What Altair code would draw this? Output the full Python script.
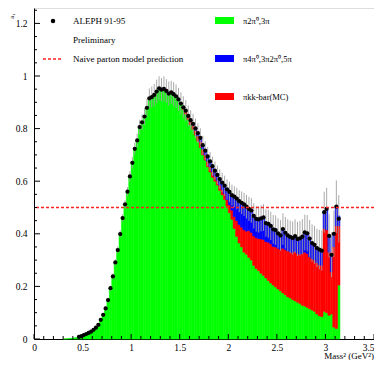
import altair as alt
import pandas as pd

# ---------------- data ----------------
BIN_WIDTH = 0.025
GREEN_START = 0.3      # left edge of first green bin (GeV^2)
DATA_START = 0.45      # left edge of first data bin
STACK_START = 1.5      # left edge of first bin carrying red / blue

# pi 2pi0, 3pi  (green, bottom of stack)
green = [0.0005, 0.001, 0.002, 0.003, 0.004, 0.006,
         0.008, 0.011, 0.015, 0.019, 0.023, 0.028, 0.035, 0.043, 0.054, 0.073,
         0.092, 0.116, 0.148, 0.193, 0.238, 0.291, 0.338, 0.399, 0.460, 0.512,
         0.560, 0.618, 0.670, 0.723, 0.755, 0.806, 0.824, 0.846, 0.879, 0.915,
         0.920, 0.928, 0.941, 0.953, 0.948, 0.951, 0.943, 0.933, 0.938, 0.931,
         0.923, 0.911,
         0.893, 0.872, 0.855, 0.835, 0.815, 0.797, 0.775, 0.752, 0.728, 0.700,
         0.680, 0.655, 0.635, 0.615, 0.600, 0.585, 0.565, 0.548, 0.530, 0.505,
         0.480, 0.455, 0.420, 0.390, 0.365, 0.350, 0.330, 0.322, 0.310, 0.300,
         0.280, 0.268, 0.260, 0.250, 0.242, 0.232, 0.222, 0.213, 0.205, 0.198,
         0.190, 0.183, 0.175, 0.168, 0.160, 0.156, 0.150, 0.145, 0.140, 0.135,
         0.128, 0.125, 0.120, 0.115, 0.110, 0.105, 0.095, 0.088, 0.085, 0.105,
         0.100, 0.090, 0.095, 0.045, 0.040, 0.205]

# pi K Kbar (MC)  (red, middle of stack), from STACK_START
red = [0.002, 0.006, 0.009, 0.010, 0.013, 0.015, 0.018, 0.020, 0.022, 0.022,
       0.020, 0.021, 0.020, 0.021, 0.018, 0.017, 0.020, 0.020, 0.022, 0.025,
       0.030, 0.035, 0.045, 0.060, 0.070, 0.075, 0.085, 0.088, 0.102, 0.105,
       0.112, 0.117, 0.122, 0.130, 0.136, 0.138, 0.146, 0.149, 0.147, 0.152,
       0.155, 0.157, 0.170, 0.172, 0.175, 0.176, 0.178, 0.188, 0.185, 0.187,
       0.197, 0.205, 0.205, 0.197, 0.195, 0.195, 0.195, 0.194, 0.195, 0.315,
       0.315, 0.240, 0.160, 0.305, 0.390, 0.225]

# pi 4pi0, 3pi 2pi0, 5pi  (blue, top of stack), from STACK_START
blue = [0.000, 0.003, 0.004, 0.003, 0.004, 0.006, 0.008, 0.011, 0.015, 0.015,
        0.016, 0.018, 0.020, 0.021, 0.022, 0.022, 0.023, 0.027, 0.031, 0.039,
        0.049, 0.057, 0.076, 0.084, 0.089, 0.093, 0.097, 0.093, 0.083, 0.084,
        0.076, 0.072, 0.073, 0.079, 0.084, 0.071, 0.070, 0.068, 0.065, 0.064,
        0.057, 0.054, 0.073, 0.064, 0.059, 0.056, 0.056, 0.058, 0.055, 0.061,
        0.064, 0.075, 0.077, 0.070, 0.060, 0.058, 0.056, 0.058, 0.056, 0.062,
        0.080, 0.062, 0.065, 0.050, 0.073, 0.038]

# ALEPH 91-95 data points and their errors, from DATA_START
data = [0.008, 0.011, 0.015, 0.019, 0.023, 0.028, 0.035, 0.043, 0.054, 0.073,
        0.092, 0.116, 0.148, 0.193, 0.238, 0.291, 0.338, 0.399, 0.460, 0.512,
        0.560, 0.618, 0.670, 0.723, 0.755, 0.806, 0.824, 0.846, 0.879, 0.915,
        0.920, 0.928, 0.941, 0.953, 0.948, 0.951, 0.943, 0.933, 0.938, 0.931,
        0.923, 0.911,
        0.895, 0.881, 0.868, 0.848, 0.832, 0.818, 0.801, 0.783, 0.765, 0.737,
        0.716, 0.694, 0.675, 0.657, 0.640, 0.624, 0.608, 0.595, 0.583, 0.569,
        0.559, 0.547, 0.541, 0.534, 0.524, 0.518, 0.512, 0.503, 0.495, 0.489,
        0.468, 0.457, 0.455, 0.459, 0.462, 0.441, 0.438, 0.430, 0.417, 0.414,
        0.402, 0.394, 0.418, 0.404, 0.394, 0.388, 0.384, 0.391, 0.380, 0.383,
        0.389, 0.405, 0.402, 0.382, 0.365, 0.358, 0.346, 0.340, 0.336, 0.482,
        0.495, 0.392, 0.320, 0.400, 0.503, 0.457]

err = [0.003, 0.003, 0.003, 0.003, 0.003, 0.003, 0.003, 0.003,
       0.005, 0.006, 0.007, 0.008, 0.009, 0.010, 0.011,
       0.012, 0.013, 0.014, 0.015, 0.016, 0.018, 0.020, 0.022, 0.024, 0.026, 0.028,
       0.030, 0.032, 0.034, 0.038, 0.040, 0.042, 0.045, 0.046, 0.044, 0.048,
       0.045, 0.046, 0.044, 0.046, 0.045, 0.044, 0.043,
       0.042, 0.040, 0.040, 0.038, 0.038, 0.037, 0.037, 0.036, 0.036, 0.036,
       0.036, 0.036, 0.036, 0.036, 0.036, 0.037, 0.037, 0.038, 0.038, 0.039,
       0.040, 0.040, 0.041, 0.042, 0.043, 0.044, 0.045, 0.046, 0.047, 0.048,
       0.049, 0.050, 0.050, 0.051, 0.052, 0.053, 0.054, 0.055, 0.056, 0.057,
       0.058, 0.060, 0.060, 0.061, 0.062, 0.063, 0.064, 0.065, 0.066, 0.067,
       0.068, 0.069, 0.070, 0.071, 0.072, 0.073, 0.075, 0.076, 0.078, 0.080,
       0.082, 0.085, 0.088, 0.100, 0.090]

NAIVE_PARTON = [0.5]

COMPONENTS = ["green", "red", "blue"]
COMP_COLORS = ["#00ff00", "#ff0000", "#0000ff"]

X_LABELS = [0, 0.5, 1, 1.5, 2, 2.5, 3, 3.5]
X_MINOR = [0.1, 0.2, 0.3, 0.4, 0.6, 0.7, 0.8, 0.9, 1.1, 1.2, 1.3, 1.4,
           1.6, 1.7, 1.8, 1.9, 2.1, 2.2, 2.3, 2.4, 2.6, 2.7, 2.8, 2.9,
           3.1, 3.2, 3.3, 3.4]
Y_LABELS = [0, 0.2, 0.4, 0.6, 0.8, 1, 1.2]
Y_MINOR = [0.05, 0.1, 0.15, 0.25, 0.3, 0.35, 0.45, 0.5, 0.55, 0.65, 0.7, 0.75,
           0.85, 0.9, 0.95, 1.05, 1.1, 1.15, 1.25]

LEGEND_LEFT = ["ALEPH 91-95", "Preliminary", "Naive parton model prediction"]
LEGEND_RIGHT = ["\u03c02\u03c0\u2070,3\u03c0",
                "\u03c04\u03c0\u2070,3\u03c02\u03c0\u2070,5\u03c0",
                "\u03c0kk-bar(MC)"]
X_TITLE = "Mass\u00b2 (GeV\u00b2)"
Y_TITLE = "a\u2081"

# ---------------- build tables ----------------
rows = []
for i, g in enumerate(green):
    lo = GREEN_START + i * BIN_WIDTH
    rows.append(dict(lo=lo, hi=lo + BIN_WIDTH, y0=0.0, y1=g, comp="green"))
offset = round((STACK_START - GREEN_START) / BIN_WIDTH)
for j, (r, b) in enumerate(zip(red, blue)):
    g = green[offset + j]
    lo = STACK_START + j * BIN_WIDTH
    rows.append(dict(lo=lo, hi=lo + BIN_WIDTH, y0=g, y1=g + r, comp="red"))
    rows.append(dict(lo=lo, hi=lo + BIN_WIDTH, y0=g + r, y1=g + r + b, comp="blue"))
hist = pd.DataFrame(rows)

pts = pd.DataFrame({
    "m": [DATA_START + BIN_WIDTH / 2 + i * BIN_WIDTH for i in range(len(data))],
    "v": data,
    "e": err,
})
pts["lo"] = pts["v"] - pts["e"]
pts["hi"] = pts["v"] + pts["e"]

# ---------------- layout ----------------
W, H = 340, 331
Y_MAX = H / 263.0
FONT = "Liberation Serif"

xs = alt.Scale(domain=[0, 3.5], nice=False, zero=False)
ys = alt.Scale(domain=[0, Y_MAX], nice=False, zero=False)
cs = alt.Scale(domain=COMPONENTS, range=COMP_COLORS)

x_axis = alt.Axis(values=X_LABELS, format="~g", ticks=False, grid=False,
                  domainColor="#000000", labelFont=FONT, labelFontSize=9.5,
                  labelColor="#000000", labelPadding=3, title=None,
                  labelAlign={"condition": {"test": "datum.value == 3.5", "value": "right"},
                              "value": "center"})
y_axis = alt.Axis(values=Y_LABELS, format="~g", ticks=False, grid=False,
                  domainColor="#000000", labelFont=FONT, labelFontSize=9.5,
                  labelColor="#000000", labelPadding=7, title=None)

bars = alt.Chart(hist).mark_rect(strokeWidth=0.5).encode(
    x=alt.X("lo:Q", scale=xs, axis=x_axis),
    x2="hi:Q",
    y=alt.Y("y0:Q", scale=ys, axis=y_axis),
    y2="y1:Q",
    color=alt.Color("comp:N", scale=cs, legend=None),
    stroke=alt.Stroke("comp:N", scale=cs, legend=None),
)

naive = alt.Chart(pd.DataFrame({"y": NAIVE_PARTON})).mark_rule(
    color="#ff2020", strokeDash=[3, 2], strokeWidth=1.6
).encode(y=alt.Y("y:Q", scale=ys))

ebars = alt.Chart(pts).mark_rule(color="#a0a0a0", strokeWidth=0.9).encode(
    x=alt.X("m:Q", scale=xs), y=alt.Y("lo:Q", scale=ys), y2="hi:Q")

dots = alt.Chart(pts).mark_circle(color="#000000", opacity=1, size=18).encode(
    x=alt.X("m:Q", scale=xs), y=alt.Y("v:Q", scale=ys))

# inward tick marks
xt_major = alt.Chart(pd.DataFrame({"t": X_LABELS})).mark_rule(color="#000000").encode(
    x=alt.X("t:Q", scale=xs), y=alt.value(H), y2=alt.value(H - 5))
xt_minor = alt.Chart(pd.DataFrame({"t": X_MINOR})).mark_rule(color="#000000").encode(
    x=alt.X("t:Q", scale=xs), y=alt.value(H), y2=alt.value(H - 3))
yt_major = alt.Chart(pd.DataFrame({"t": Y_LABELS})).mark_rule(color="#000000").encode(
    y=alt.Y("t:Q", scale=ys), x=alt.value(0), x2=alt.value(6))
yt_minor = alt.Chart(pd.DataFrame({"t": Y_MINOR})).mark_rule(color="#000000").encode(
    y=alt.Y("t:Q", scale=ys), x=alt.value(0), x2=alt.value(3))


def text_at(txt, x, y, size, align="left", baseline="middle", angle=0):
    kw = dict(align=align, baseline=baseline, font=FONT, fontSize=size, color="#000000")
    if angle:
        kw["angle"] = angle
    return alt.Chart(pd.DataFrame({"t": [txt]})).mark_text(**kw).encode(
        x=alt.value(x), y=alt.value(y), text="t:N")


def rect_at(x1, x2, y1, y2, color):
    return alt.Chart(pd.DataFrame({"c": [color]})).mark_rect(color=color).encode(
        x=alt.value(x1), x2=alt.value(x2), y=alt.value(y1), y2=alt.value(y2))


leg_dot = alt.Chart(pd.DataFrame({"c": [1]})).mark_circle(
    color="#000000", opacity=1, size=20).encode(x=alt.value(19), y=alt.value(13))
leg_line = alt.Chart(pd.DataFrame({"c": [1]})).mark_rule(
    color="#ff2020", strokeDash=[3, 2], strokeWidth=1.6).encode(
    x=alt.value(9), x2=alt.value(29), y=alt.value(51))

legend = [
    leg_dot,
    text_at(LEGEND_LEFT[0], 39, 13, 9),
    text_at(LEGEND_LEFT[1], 39, 32, 9),
    leg_line,
    text_at(LEGEND_LEFT[2], 39, 51, 9),
    rect_at(181, 200, 9, 16, COMP_COLORS[0]),
    text_at(LEGEND_RIGHT[0], 209, 13, 8.5),
    rect_at(181, 200, 47, 54, COMP_COLORS[2]),
    text_at(LEGEND_RIGHT[1], 209, 51, 8.5),
    rect_at(181, 200, 85, 92, COMP_COLORS[1]),
    text_at(LEGEND_RIGHT[2], 209, 89, 8.5),
    text_at(X_TITLE, W, H + 20, 9, align="right", baseline="alphabetic"),
    text_at(Y_TITLE, -22, 8, 7, align="center", baseline="middle", angle=270),
]

chart = alt.layer(
    bars, ebars, dots, naive, xt_major, xt_minor, yt_major, yt_minor, *legend
).properties(
    width=W, height=H,
    autosize=alt.AutoSizeParams(type="none"),
    padding={"left": 26, "top": 0, "right": 0, "bottom": 352 - H},
).configure_view(stroke="#888888", strokeWidth=1).configure(background="#ffffff")

chart.save("out.html", embed_options={"renderer": "svg", "actions": False})
